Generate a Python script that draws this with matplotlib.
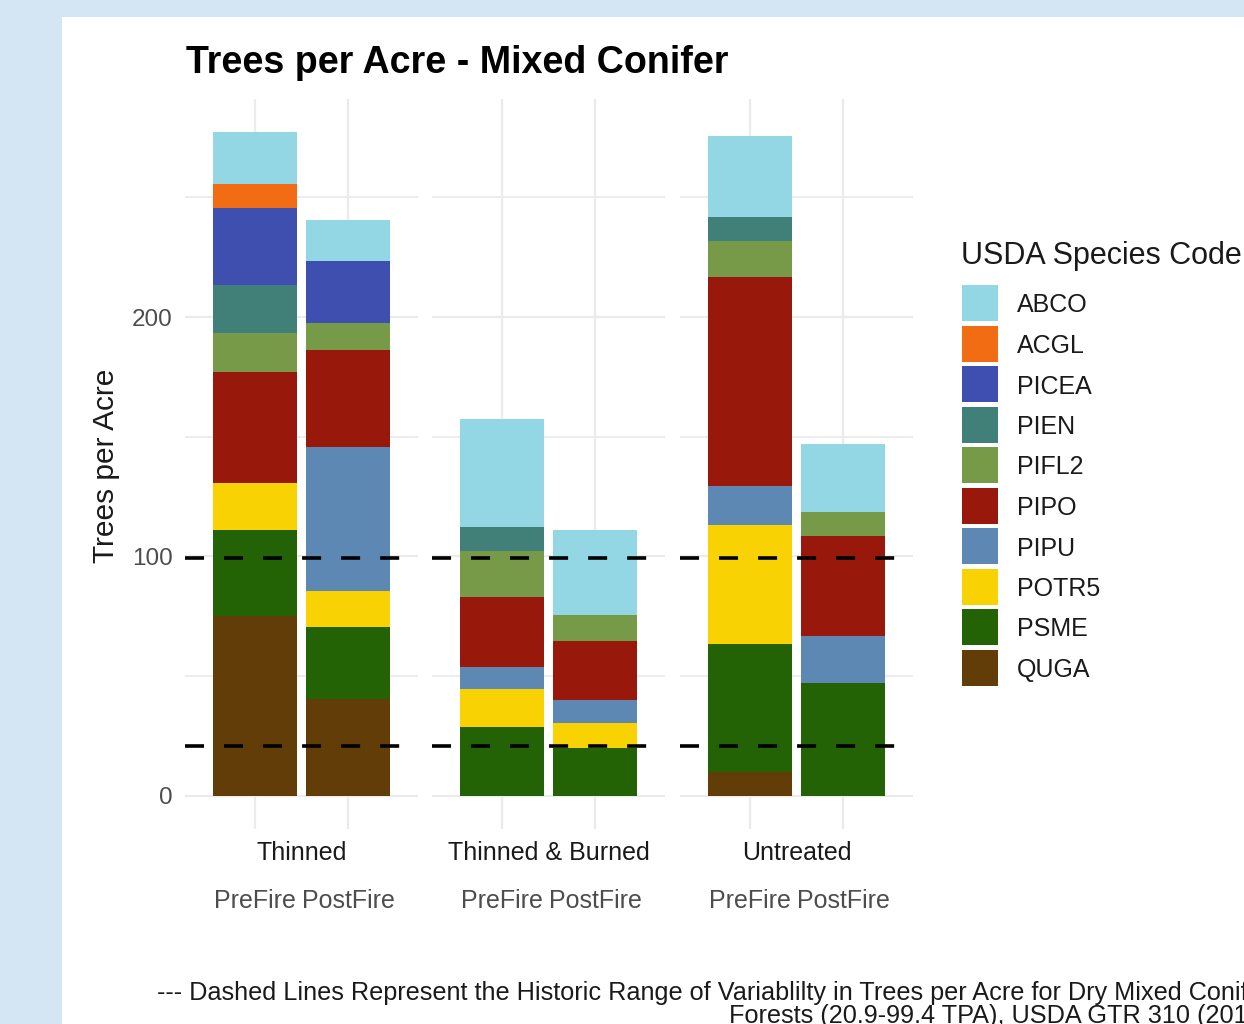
import matplotlib
matplotlib.use('Agg')
import matplotlib.pyplot as plt
from matplotlib.patches import Rectangle
import numpy as np

# ---------------- data ----------------
species = ['ABCO', 'ACGL', 'PICEA', 'PIEN', 'PIFL2', 'PIPO', 'PIPU', 'POTR5', 'PSME', 'QUGA']
treatments = ['Thinned', 'Thinned & Burned', 'Untreated']
periods = ['PreFire', 'PostFire']

# order of values: Thinned Pre, Thinned Post, T&B Pre, T&B Post, Untreated Pre, Untreated Post
ABCO  = [21.7, 17.1, 45.1, 35.5, 33.8, 28.4]
ACGL  = [10.0, 0.0, 0.0, 0.0, 0.0, 0.0]
PICEA = [32.1, 25.9, 0.0, 0.0, 0.0, 0.0]
PIEN  = [20.1, 0.0, 10.0, 0.0, 10.0, 0.0]
PIFL2 = [16.3, 11.3, 19.2, 10.9, 15.0, 10.0]
PIPO  = [46.3, 40.5, 29.2, 24.6, 87.3, 41.8]
PIPU  = [0.0, 60.1, 9.2, 9.6, 16.3, 19.6]
POTR5 = [19.6, 15.0, 15.9, 10.5, 49.7, 0.0]
PSME  = [35.9, 30.1, 28.8, 20.0, 53.5, 47.2]
QUGA  = [75.2, 40.5, 0.0, 0.0, 10.0, 0.0]

hrv_range = [20.9, 99.4]

colors = ['#93D7E5', '#F26C14', '#3F4FAF', '#418079', '#769A47',
          '#98180C', '#5E88B4', '#F9D203', '#236306', '#623D07']

values = {'ABCO': ABCO, 'ACGL': ACGL, 'PICEA': PICEA, 'PIEN': PIEN, 'PIFL2': PIFL2,
          'PIPO': PIPO, 'PIPU': PIPU, 'POTR5': POTR5, 'PSME': PSME, 'QUGA': QUGA}
color_map = dict(zip(species, colors))

# ---------------- style ----------------
plt.rcParams['font.family'] = ['Liberation Sans', 'DejaVu Sans']
plt.rcParams['lines.scale_dashes'] = False

W, H = 1244, 1024
fig = plt.figure(figsize=(W / 100, H / 100), dpi=100, facecolor='#D4E6F4')
fig.patches.append(Rectangle((62 / W, 0), 1 - 62 / W, 1 - 17 / H, transform=fig.transFigure,
                             facecolor='white', edgecolor='none', zorder=-10))

totals = np.sum([values[s] for s in species], axis=0)
ymax_data = totals.max()
ylo, yhi = -0.05 * ymax_data, 1.05 * ymax_data

panel_left = [185, 432, 680]
pw = 233
pbottom, ptop = 829, 99
x = np.array([1, 2])

for i, t in enumerate(treatments):
    ax = fig.add_axes([panel_left[i] / W, 1 - pbottom / H, pw / W, (pbottom - ptop) / H])
    ax.set_facecolor('none')
    ax.set_xlim(0.25, 2.75)
    ax.set_ylim(ylo, yhi)
    bottoms = np.zeros(2)
    for sp in reversed(species):
        v = np.array(values[sp][2 * i:2 * i + 2])
        ax.bar(x, v, 0.9, bottom=bottoms, color=color_map[sp], edgecolor='none', zorder=2)
        bottoms += v
    for h in hrv_range:
        ax.axhline(h, color='black', lw=2.6, ls=(0, (13.7, 14.4)), zorder=3)

    ax.set_yticks([0, 100, 200])
    ax.set_yticks([50, 150, 250], minor=True)
    ax.grid(which='major', color='#EBEBEB', lw=1.6, zorder=0)
    ax.grid(which='minor', axis='y', color='#EBEBEB', lw=1.3, zorder=0)
    ax.set_axisbelow(True)
    for s in ax.spines.values():
        s.set_visible(False)
    ax.set_xticks(x)
    ax.set_xticklabels(periods)
    ax.tick_params(axis='x', length=0, pad=43, labelsize=18, labelcolor='#4D4D4D')
    ax.tick_params(axis='y', which='both', length=0, pad=9, labelsize=17.5, labelcolor='#4D4D4D')
    if i > 0:
        ax.tick_params(axis='y', labelleft=False)
    ax.text(0.5, (pbottom - 853) / (pbottom - ptop), t, transform=ax.transAxes,
            ha='center', va='center', fontsize=18, color='#1A1A1A')

fig.text(106 / W, 1 - 466 / H, 'Trees per Acre', rotation=90, ha='center', va='center',
         fontsize=21.5, color='#1A1A1A')
fig.text(186 / W, 1 - 63 / H, 'Trees per Acre - Mixed Conifer', ha='left', va='center',
         fontsize=27.1, fontweight='bold', color='black')

# ---------------- legend (drawn in figure pixels) ----------------
fig.text(961 / W, 1 - 264 / H, 'USDA Species Code', ha='left', va='baseline',
         fontsize=22, color='#1A1A1A')
key_top0, key_step, key_size = 285, 40.5, 36
for k, sp in enumerate(species):
    top = key_top0 + k * key_step
    fig.patches.append(Rectangle((962 / W, 1 - (top + key_size) / H), key_size / W, key_size / H,
                                 transform=fig.transFigure, facecolor=color_map[sp],
                                 edgecolor='none'))
    fig.text(1017 / W, 1 - (top + key_size / 2) / H, sp, ha='left', va='center_baseline',
             fontsize=18, color='#1A1A1A')

# ---------------- caption ----------------
fig.text(1270 / W, 1 - 1000 / H,
         '--- Dashed Lines Represent the Historic Range of Variablilty in Trees per Acre for Dry Mixed Conifer',
         ha='right', va='baseline', fontsize=18.2, color='#1A1A1A')
fig.text(1270 / W, 1 - 1023 / H, 'Forests (20.9-99.4 TPA), USDA GTR 310 (2013)',
         ha='right', va='baseline', fontsize=18.2, color='#1A1A1A')

fig.savefig('out.png', dpi=100, facecolor=fig.get_facecolor())
